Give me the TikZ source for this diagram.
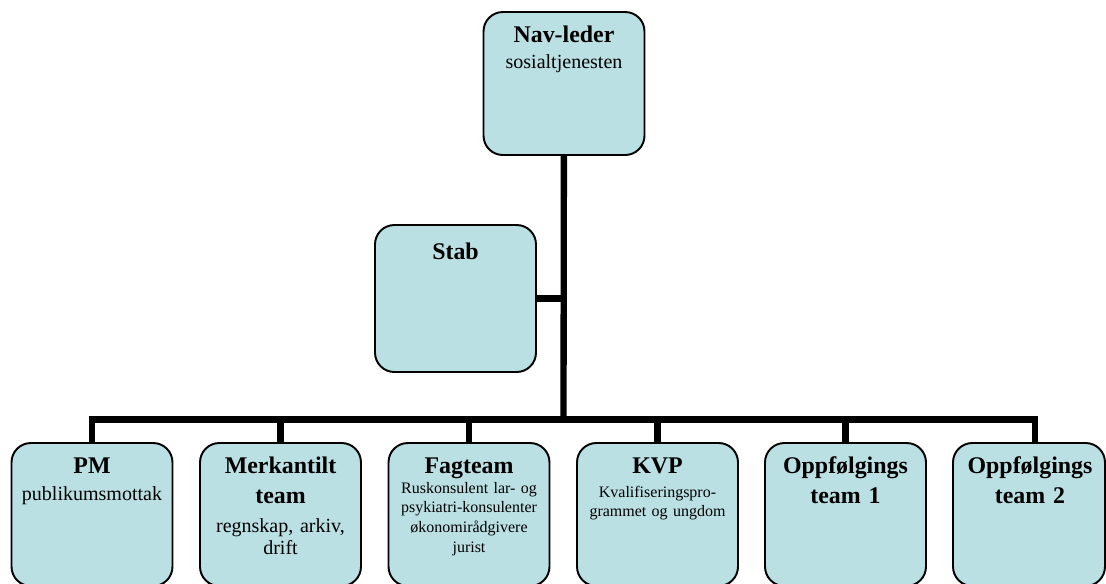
\documentclass[tikz,border=0pt]{standalone}
\usepackage{fontspec}
\setmainfont{Liberation Serif}
\usetikzlibrary{positioning}

\definecolor{boxfill}{HTML}{BBE0E3}

\def \barWidth {3.6pt}
\def \boxRadius {11pt}

\begin{document}
\begin{tikzpicture}[x=0.02cm, y=-0.02cm,
   unit/.style={draw=black, line width=1.1pt, fill=boxfill, rounded corners=\boxRadius,
                inner sep=0pt, minimum width=3.22cm, minimum height=2.86cm},
   bar/.style={line width=\barWidth, line join=miter},
   title/.style={inner sep=0pt, text width=3.1cm, align=center,
                 font=\fontsize{13.6}{17.3}\selectfont\bfseries},
   sub/.style={inner sep=0pt, text width=3.1cm, align=center,
               font=\fontsize{11.4}{12.6}\selectfont},
   small/.style={inner sep=0pt, text width=3.1cm, align=center,
                 font=\fontsize{9.1}{11.2}\selectfont}]

      \clip (0,0) rectangle (1106,583);

      % boxes
      \node[unit] (nav) at (564,83.5) {};
      \node[unit, minimum height=2.94cm] (stab) at (455.5,298.5) {};
      \node[unit] (pm) at (92,514.5) {};
      \node[unit] (merk) at (280.5,514.5) {};
      \node[unit] (fag) at (469,514.5) {};
      \node[unit] (kvp) at (657.5,514.5) {};
      \node[unit] (opp1) at (845.5,514.5) {};
      \node[unit, minimum width=3.04cm] (opp2) at (1029,514.5) {};

      % lines
      \coordinate (hub) at (563.5,419.5);
      \draw[bar] (nav) -- (hub);
      \draw[bar] (stab.east) -- (stab.east -| hub);
      \draw[bar] (pm.north) -- (pm.north |- hub) -- (hub -| 1035,0) -- (1035,443);
      \foreach \unitName in {merk,fag,kvp,opp1}
         \draw[bar] (\unitName.north |- hub) -- (\unitName.north);

      % texts
      \node[title, anchor=base] (navTitle) at (564,42) {Nav-leder};
      \node[sub, anchor=base] (navSub) at (564,68) {sosialtjenesten};

      \node[title, anchor=base] (stabTitle) at (455.5,259) {Stab};

      \node[title, anchor=base] (pmTitle) at (92,473) {PM};
      \node[sub, anchor=base] (pmSub) at (92,500) {publikumsmottak};

      \node[title, anchor=base] (merkTitle) at (280.5,473) {Merkantilt\\team};
      \node[sub, anchor=base] (merkSub) at (280.5,532) {regnskap, arkiv,\\drift};

      \node[title, anchor=base] (fagTitle) at (469,473) {Fagteam};
      \node[small, anchor=base] (fagSub) at (469,493) {Ruskonsulent lar- og\\psykiatri-konsulenter\\økonomirådgivere\\jurist};

      \node[title, anchor=base] (kvpTitle) at (657.5,473) {KVP};
      \node[small, anchor=base] (kvpSub) at (657.5,497) {Kvalifiseringspro-\\grammet og ungdom};

      \node[title, anchor=base] (opp1Title) at (845.5,473) {Oppfølgings\\team 1};
      \node[title, anchor=base] (opp2Title) at (1030,473) {Oppfølgings\\team 2};

\end{tikzpicture}
\end{document}
